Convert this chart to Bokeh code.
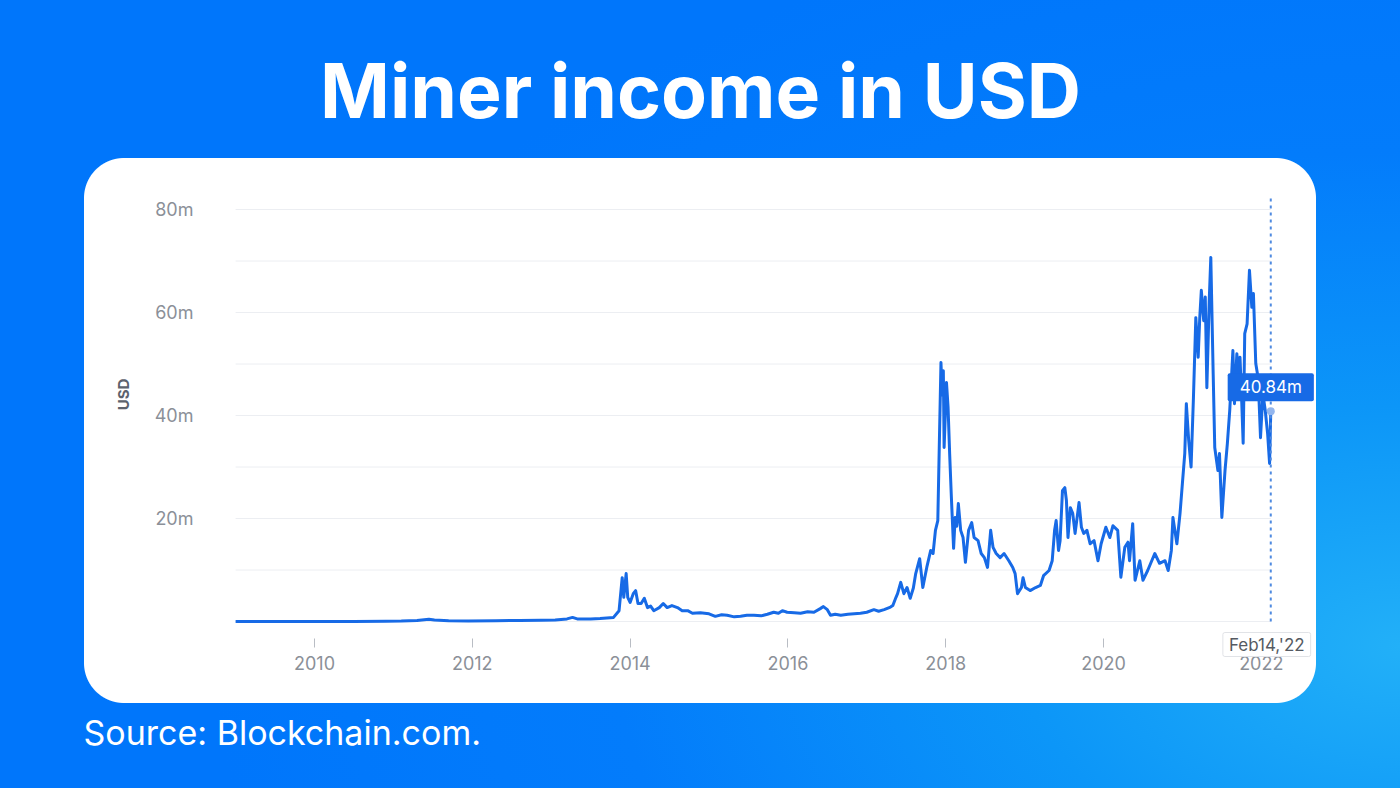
from bokeh.plotting import figure
from bokeh.models import Range1d, FixedTicker, PrintfTickFormatter, Label
from bokeh.embed import file_html
from bokeh.resources import INLINE

# ---------------- data ----------------
TITLE = "Miner income in USD"
SOURCE = "Source: Blockchain.com."
Y_LABEL = "USD"
YEAR_TICKS = [2010, 2012, 2014, 2016, 2018, 2020, 2022]
Y_TICKS = [20, 40, 60, 80]
Y_GRID = [0, 10, 20, 30, 40, 50, 60, 70, 80]
LAST_VALUE_LABEL = "40.84m"
LAST_DATE_LABEL = "Feb14,'22"

# decimal year
dates = [
    2009.00, 2009.50, 2010.00, 2010.50, 2010.90, 2011.10, 2011.30, 2011.45, 2011.52, 2011.70,
    2011.95, 2012.30, 2012.60, 2012.87, 2013.05, 2013.20, 2013.27, 2013.33, 2013.50, 2013.62,
    2013.79, 2013.86, 2013.90, 2013.92, 2013.95, 2013.97, 2014.00, 2014.04, 2014.07, 2014.10,
    2014.14, 2014.18, 2014.22, 2014.26, 2014.30, 2014.37, 2014.42, 2014.47, 2014.53, 2014.60,
    2014.66, 2014.73, 2014.79, 2014.89, 2015.00, 2015.08, 2015.16, 2015.23, 2015.32, 2015.40,
    2015.48, 2015.57, 2015.66, 2015.74, 2015.82, 2015.88, 2015.93, 2015.99, 2016.08, 2016.16,
    2016.25, 2016.33, 2016.41, 2016.45, 2016.50, 2016.54, 2016.60, 2016.67, 2016.76, 2016.84,
    2016.92, 2017.00, 2017.09, 2017.15, 2017.22, 2017.30, 2017.33, 2017.37, 2017.39, 2017.43,
    2017.47, 2017.51, 2017.55, 2017.59, 2017.62, 2017.67, 2017.71, 2017.76, 2017.81, 2017.84,
    2017.87, 2017.90, 2017.92, 2017.94, 2017.955, 2017.97, 2017.98, 2018.01, 2018.03, 2018.05,
    2018.07, 2018.10, 2018.12, 2018.14, 2018.16, 2018.19, 2018.22, 2018.25, 2018.29, 2018.33,
    2018.36, 2018.41, 2018.45, 2018.49, 2018.53, 2018.57, 2018.60, 2018.64, 2018.69, 2018.74,
    2018.80, 2018.85, 2018.88, 2018.91, 2018.96, 2018.98, 2019.01, 2019.07, 2019.14, 2019.20,
    2019.24, 2019.31, 2019.35, 2019.38, 2019.40, 2019.43, 2019.45, 2019.48, 2019.51, 2019.53,
    2019.55, 2019.58, 2019.61, 2019.64, 2019.69, 2019.72, 2019.75, 2019.79, 2019.83, 2019.88,
    2019.93, 2019.97, 2020.03, 2020.08, 2020.12, 2020.18, 2020.22, 2020.27, 2020.31, 2020.33,
    2020.37, 2020.40, 2020.46, 2020.50, 2020.56, 2020.65, 2020.71, 2020.78, 2020.82, 2020.86,
    2020.88, 2020.93, 2020.97, 2021.00, 2021.03, 2021.05, 2021.08, 2021.11, 2021.14, 2021.17,
    2021.20, 2021.22, 2021.24, 2021.27, 2021.29, 2021.31, 2021.34, 2021.36, 2021.39, 2021.41,
    2021.45, 2021.47, 2021.50, 2021.54, 2021.57, 2021.60, 2021.64, 2021.66, 2021.69, 2021.71,
    2021.73, 2021.75, 2021.77, 2021.79, 2021.82, 2021.85, 2021.88, 2021.90, 2021.93, 2021.95,
    2021.97, 2021.99, 2022.02, 2022.05, 2022.08, 2022.105, 2022.12,
]

# miner revenue, millions of USD per day
income_musd = [
    0.0, 0.0, 0.0, 0.01, 0.03, 0.08, 0.2, 0.45, 0.3, 0.15,
    0.1, 0.15, 0.2, 0.25, 0.3, 0.5, 0.8, 0.5, 0.5, 0.6,
    0.8, 2.1, 8.5, 4.7, 9.3, 4.7, 3.7, 5.4, 6.0, 3.5,
    3.5, 4.5, 2.7, 3.0, 2.1, 2.7, 3.5, 2.7, 3.1, 2.7,
    2.1, 2.1, 1.6, 1.7, 1.5, 1.0, 1.3, 1.2, 0.9, 1.0,
    1.2, 1.2, 1.1, 1.4, 1.8, 1.6, 2.1, 1.8, 1.7, 1.6,
    1.9, 1.8, 2.5, 2.9, 2.3, 1.2, 1.4, 1.2, 1.4, 1.5,
    1.6, 1.8, 2.3, 2.0, 2.3, 2.8, 3.1, 4.7, 5.4, 7.6,
    5.4, 6.6, 4.5, 6.5, 9.3, 12.2, 6.6, 10.5, 13.8, 13.2,
    17.7, 19.6, 35.1, 50.3, 44.0, 48.7, 33.8, 46.4, 41.6, 32.6,
    24.8, 14.2, 20.2, 18.5, 22.9, 17.7, 16.3, 11.5, 17.7, 19.2,
    16.3, 15.7, 13.2, 12.4, 10.5, 17.7, 14.4, 13.2, 12.4, 13.2,
    11.8, 10.5, 9.3, 5.4, 6.6, 8.5, 6.6, 6.0, 6.6, 7.0,
    8.9, 9.9, 11.8, 17.7, 19.6, 13.8, 15.7, 25.4, 26.0, 23.5,
    16.3, 22.1, 21.0, 17.1, 23.1, 18.3, 17.1, 17.7, 15.1, 15.7,
    11.8, 15.1, 18.3, 16.3, 18.6, 17.7, 8.6, 14.4, 15.4, 11.8,
    19.0, 8.0, 11.8, 8.0, 9.9, 13.2, 11.3, 11.8, 9.9, 13.8,
    20.2, 15.1, 21.0, 26.8, 32.6, 42.3, 35.1, 30.0, 43.5, 59.0,
    51.3, 59.0, 64.3, 58.4, 63.0, 45.4, 62.3, 70.7, 48.2, 33.8,
    29.3, 32.6, 20.2, 29.3, 34.6, 41.0, 52.6, 42.3, 52.0, 48.2,
    51.3, 43.5, 34.6, 55.9, 57.8, 68.2, 61.0, 63.7, 50.1, 48.2,
    43.5, 35.7, 44.3, 41.0, 36.5, 30.7, 40.84,
]
assert len(dates) == len(income_musd)

# ---------------- layout / styling ----------------
W, H = 1400, 788
PX_PER_YEAR = 78.9            # horizontal scale of the chart area
PX_PER_M = 5.15               # vertical scale (px per million USD)
X_AT_2010, Y_AT_0 = 314, 621  # pixel anchors of the chart area
X_LEFT, Y_BOTTOM = 237, 625   # edges of the chart area

x0 = 2010 - X_AT_2010 / PX_PER_YEAR
y_top = Y_AT_0 / PX_PER_M
y_bot = -(H - Y_AT_0) / PX_PER_M
axis_x_loc = 2010 - (X_AT_2010 - X_LEFT) / PX_PER_YEAR
axis_y_loc = -(Y_BOTTOM - Y_AT_0) / PX_PER_M

# card: rounded white panel drawn as CSS background layers over a blue gradient
CL, CT, CW, CH, R = 84, 158, 1232, 545, 40
WHITE = "linear-gradient(#fff,#fff)"
bg_layers = [
    f"{WHITE} {CL}px {CT + R}px / {CW}px {CH - 2 * R}px no-repeat",
    f"{WHITE} {CL + R}px {CT}px / {CW - 2 * R}px {CH}px no-repeat",
    f"radial-gradient(circle at {R}px {R}px, #fff {R - 0.5}px, rgba(255,255,255,0) {R + 0.5}px) "
    f"{CL}px {CT}px / {R}px {R}px no-repeat",
    f"radial-gradient(circle at 0px {R}px, #fff {R - 0.5}px, rgba(255,255,255,0) {R + 0.5}px) "
    f"{CL + CW - R}px {CT}px / {R}px {R}px no-repeat",
    f"radial-gradient(circle at {R}px 0px, #fff {R - 0.5}px, rgba(255,255,255,0) {R + 0.5}px) "
    f"{CL}px {CT + CH - R}px / {R}px {R}px no-repeat",
    f"radial-gradient(circle at 0px 0px, #fff {R - 0.5}px, rgba(255,255,255,0) {R + 0.5}px) "
    f"{CL + CW - R}px {CT + CH - R}px / {R}px {R}px no-repeat",
    "radial-gradient(ellipse 85% 95% at 100% 82%, #22b0f8 0%, #0c96f8 32%, #037cfb 66%, #0076fb 100%)",
]
BG = ", ".join(bg_layers)

LINE_BLUE = "#176ae6"
AXIS_FONT = "Inter"
TITLE_FONT = "Inter"
LABEL_GREY = "#8b9098"

p = figure(width=W, height=H, title=None,
           x_range=Range1d(x0, x0 + W / PX_PER_YEAR), y_range=Range1d(y_bot, y_top),
           toolbar_location=None, output_backend="svg", min_border=0,
           styles={"background": BG})
p.border_fill_alpha = 0
p.background_fill_alpha = 0
p.outline_line_color = None
p.grid.visible = False

# horizontal grid lines over the chart area only
p.segment(x0=[dates[0]] * len(Y_GRID), x1=[dates[-1]] * len(Y_GRID), y0=Y_GRID, y1=Y_GRID,
          line_color="#eceef2", line_width=1)

xa = p.xaxis[0]
xa.fixed_location = axis_y_loc
xa.ticker = FixedTicker(ticks=YEAR_TICKS)
xa.axis_line_color = None
xa.major_tick_line_color = "#b9bdc4"
xa.major_tick_line_width = 1
xa.major_tick_in = -13
xa.major_tick_out = 22
xa.minor_tick_line_color = None
xa.major_label_standoff = 8
xa.major_label_text_font = AXIS_FONT
xa.major_label_text_font_size = "18px"
xa.major_label_text_color = LABEL_GREY

ya = p.yaxis[0]
ya.fixed_location = axis_x_loc
ya.ticker = FixedTicker(ticks=Y_TICKS)
ya.formatter = PrintfTickFormatter(format="%dm")
ya.axis_line_color = None
ya.major_tick_line_color = None
ya.minor_tick_line_color = None
ya.major_tick_in = 0
ya.major_tick_out = 0
ya.major_label_standoff = 44
ya.major_label_text_font = AXIS_FONT
ya.major_label_text_font_size = "18px"
ya.major_label_text_color = LABEL_GREY
ya.axis_label = Y_LABEL
ya.axis_label_standoff = 19
ya.axis_label_text_font = AXIS_FONT
ya.axis_label_text_font_size = "15px"
ya.axis_label_text_font_style = "bold"
ya.axis_label_text_color = "#5d636d"

p.line(x=dates, y=income_musd, line_color=LINE_BLUE, line_width=3, line_join="round")

last_x = dates[-1]
last_y = income_musd[-1]

# dotted cursor line at the latest point
p.segment(x0=[last_x], x1=[last_x], y0=[0], y1=[Y_GRID[-1] + 2.3],
          line_color="#4f8ae0", line_width=2, line_dash="3 4")
p.scatter(x=[last_x], y=[last_y], size=8, fill_color="#93b6ee", line_color=None)

p.add_layout(Label(x=last_x, y=last_y, text=LAST_VALUE_LABEL, text_align="center",
                   text_baseline="middle", y_offset=24, text_color="white",
                   text_font=AXIS_FONT, text_font_size="17px",
                   background_fill_color=LINE_BLUE, border_radius=2, padding=(12, 4)))
p.add_layout(Label(x=last_x, y=0, text=LAST_DATE_LABEL, text_align="center",
                   text_baseline="middle", x_offset=-4, y_offset=-23, text_color="#555a62",
                   text_font=AXIS_FONT, text_font_size="17px",
                   background_fill_color="white", border_line_color="#e1e3e7",
                   border_radius=2, padding=(6, 2)))

# title and source note (screen units, measured from the bottom-left)
p.add_layout(Label(x=W / 2, y=H - 117 + 27, x_units="screen", y_units="screen", text=TITLE,
                   text_align="center", text_baseline="alphabetic", text_color="white",
                   text_font=TITLE_FONT, text_font_style="bold", text_font_size="75px"))
p.add_layout(Label(x=83, y=H - 746 + 14, x_units="screen", y_units="screen", text=SOURCE,
                   text_align="left", text_baseline="alphabetic", text_color="white",
                   text_font=TITLE_FONT, text_font_size="34px"))

open("out.html", "w").write(file_html(p, INLINE))
